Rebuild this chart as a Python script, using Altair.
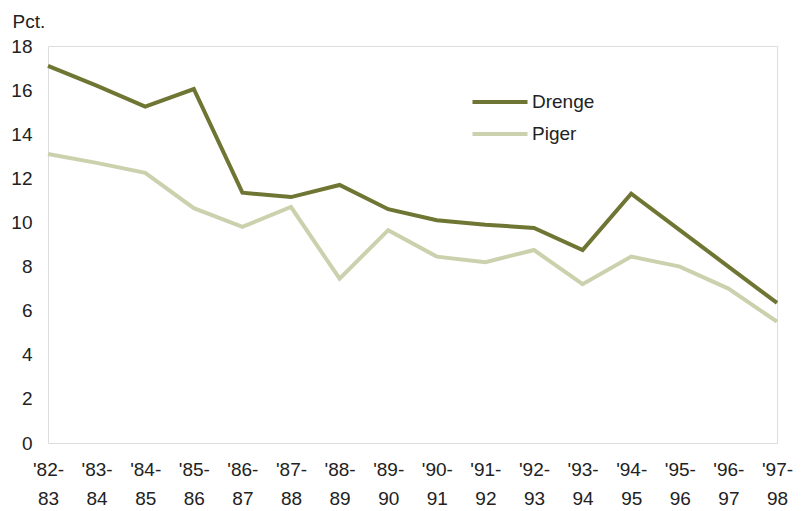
import altair as alt
import pandas as pd

periods = ["'82-83", "'83-84", "'84-85", "'85-86", "'86-87", "'87-88", "'88-89", "'89-90",
           "'90-91", "'91-92", "'92-93", "'93-94", "'94-95", "'95-96", "'96-97", "'97-98"]
drenge = [17.1, 16.2, 15.25, 16.05, 11.35, 11.15, 11.7, 10.6, 10.1, 9.9, 9.75, 8.75, 11.3, 9.65, 8.0, 6.35]
piger = [13.1, 12.7, 12.25, 10.65, 9.8, 10.7, 7.45, 9.65, 8.45, 8.2, 8.75, 7.2, 8.45, 8.0, 7.0, 5.5]
series = ["Drenge", "Piger"]
colors = ["#6f7532", "#cbd1ad"]
yticks = [0, 2, 4, 6, 8, 10, 12, 14, 16, 18]

rows = []
for name, vals in zip(series, [drenge, piger]):
    for p, v in zip(periods, vals):
        rows.append({"periode": p, "pct": v, "serie": name})
df = pd.DataFrame(rows)

FONT = "Liberation Sans Narrow, Liberation Sans, Arial, sans-serif"

chart = alt.Chart(df).mark_line(strokeWidth=4, strokeJoin="miter").encode(
    x=alt.X("periode:O", sort=periods,
            scale=alt.Scale(type="point", padding=0),
            axis=alt.Axis(title=None, labelAngle=0, ticks=False, domain=False,
                          labelPadding=17, labelFontSize=19, labelLineHeight=29,
                          labelBaseline="top", labelColor="#222222", labelFont=FONT,
                          labelExpr="[slice(datum.label,0,4), slice(datum.label,4)]")),
    y=alt.Y("pct:Q", scale=alt.Scale(domain=[0, 18], nice=False),
            axis=alt.Axis(values=yticks, grid=False, ticks=False, domain=False,
                          labelPadding=16, labelAlign="right", labelFontSize=19,
                          labelColor="#222222", labelFont=FONT,
                          title="Pct.", titleAngle=0, titleAlign="left", titleBaseline="alphabetic",
                          titleX=-36, titleY=-19, titleFontSize=19, titleFontWeight="normal",
                          titleColor="#222222", titleFont=FONT)),
    color=alt.Color("serie:N", sort=series,
                    scale=alt.Scale(domain=series, range=colors),
                    legend=alt.Legend(title=None, orient="none", legendX=440, legendY=44,
                                      symbolType="M-2.75,0H2.75", symbolSize=400, symbolStrokeWidth=4,
                                      labelFontSize=19, labelFont=FONT, labelColor="#222222",
                                      labelOffset=20, rowPadding=10)),
).properties(
    width=729, height=397,
    autosize=alt.AutoSizeParams(type="none"),
    padding={"left": 40, "top": 38, "right": 21, "bottom": 66},
).configure_view(stroke=None).configure(background="white")

chart.save("out.html", embed_options={"renderer": "svg", "actions": False})
